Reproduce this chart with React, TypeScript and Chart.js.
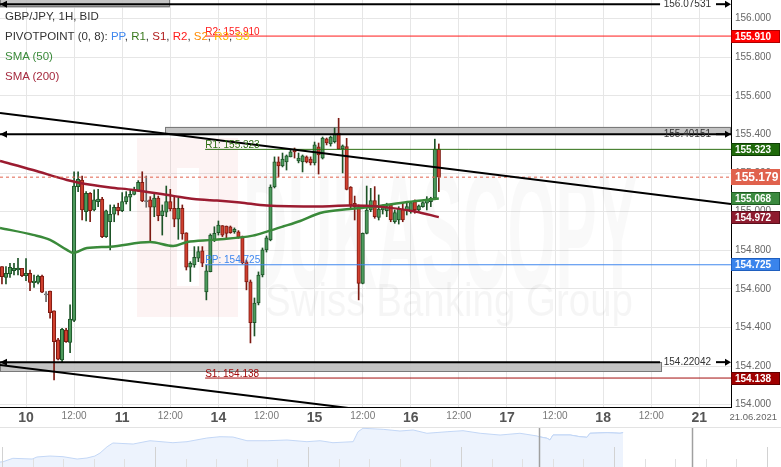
import React, { useEffect, useRef } from 'react';
import { Chart, registerables } from 'chart.js';

Chart.register(...registerables);

const FONT = '"Liberation Sans", Arial, Helvetica, sans-serif';

// ---------------- data ----------------
// x unit: trading hours counted from 10.06.2021 00:00 (weekend removed)
const FIRST_HOUR = -6;

const opens = [
  154.715, 154.660, 154.677, 154.695, 154.698, 154.707, 154.668, 154.681, 154.632, 154.634,
  154.667, 154.569, 154.589, 154.486, 154.336, 154.232, 154.387, 154.322, 154.436, 155.130,
  155.164, 155.000, 155.095, 155.009, 155.052, 155.065, 154.871, 154.948, 154.987, 155.023,
  155.005, 155.052, 155.075, 155.090, 155.109, 155.152, 155.052, 155.061, 155.023, 155.070,
  154.979, 154.997, 155.052, 155.018, 154.961, 155.018, 154.891, 154.712, 154.724, 154.759,
  154.797, 154.584, 154.689, 154.857, 154.891, 154.928, 154.926, 154.922, 154.896, 154.896,
  154.871, 154.740, 154.636, 154.425, 154.527, 154.672, 154.802, 154.854, 155.128, 155.258,
  155.237, 155.258, 155.284, 155.325, 155.263, 155.258, 155.284, 155.273, 155.253, 155.336,
  155.278, 155.377, 155.351, 155.363, 155.407, 155.325, 155.337, 155.127, 155.044, 155.026,
  154.629, 154.888, 155.009, 155.057, 154.971, 155.009, 155.005, 155.035, 154.948, 154.957,
  155.013, 155.005, 155.000, 155.052, 155.009, 155.026, 155.044, 155.052, 155.070, 155.324,
];
const highs = [
  154.715, 154.715, 154.733, 154.733, 154.759, 154.707, 154.757, 154.698, 154.672, 154.672,
  154.672, 154.586, 154.589, 154.486, 154.344, 154.396, 154.396, 154.517, 155.207, 155.207,
  155.185, 155.104, 155.099, 155.113, 155.116, 155.075, 155.009, 155.035, 155.035, 155.044,
  155.099, 155.104, 155.116, 155.127, 155.161, 155.207, 155.185, 155.078, 155.095, 155.081,
  155.035, 155.133, 155.116, 155.078, 155.070, 155.035, 154.891, 154.741, 154.819, 154.819,
  154.819, 154.724, 154.885, 154.922, 154.952, 154.928, 154.926, 154.926, 154.916, 154.902,
  154.874, 154.750, 154.646, 154.553, 154.688, 154.812, 154.874, 155.139, 155.284, 155.284,
  155.304, 155.294, 155.320, 155.330, 155.304, 155.294, 155.289, 155.284, 155.361, 155.356,
  155.387, 155.382, 155.392, 155.434, 155.484, 155.346, 155.380, 155.130, 155.081, 155.035,
  154.890, 155.133, 155.121, 155.130, 155.087, 155.035, 155.044, 155.035, 155.009, 155.026,
  155.044, 155.044, 155.052, 155.061, 155.035, 155.052, 155.078, 155.075, 155.376, 155.351,
];
const lows = [
  154.626, 154.626, 154.660, 154.672, 154.672, 154.663, 154.643, 154.591, 154.608, 154.626,
  154.581, 154.534, 154.448, 154.128, 154.232, 154.223, 154.322, 154.270, 154.430, 155.104,
  154.957, 154.952, 154.948, 155.004, 155.026, 154.865, 154.867, 154.802, 154.948, 154.983,
  155.000, 155.040, 155.005, 155.087, 155.104, 155.052, 155.023, 154.845, 154.974, 154.953,
  154.879, 154.974, 155.004, 154.922, 154.857, 154.857, 154.698, 154.638, 154.712, 154.741,
  154.715, 154.543, 154.688, 154.845, 154.879, 154.871, 154.862, 154.888, 154.888, 154.862,
  154.729, 154.595, 154.320, 154.356, 154.517, 154.662, 154.791, 154.849, 155.123, 155.180,
  155.232, 155.216, 155.284, 155.278, 155.253, 155.206, 155.253, 155.242, 155.242, 155.195,
  155.273, 155.346, 155.340, 155.356, 155.324, 155.201, 155.113, 155.018, 154.957, 154.543,
  154.626, 154.885, 155.000, 154.966, 154.957, 154.988, 154.974, 154.948, 154.940, 154.936,
  154.948, 154.983, 154.992, 154.992, 155.000, 155.023, 155.009, 155.026, 155.065, 155.104,
];
const closes = [
  154.663, 154.681, 154.712, 154.707, 154.708, 154.668, 154.681, 154.634, 154.640, 154.667,
  154.583, 154.569, 154.477, 154.327, 154.236, 154.391, 154.327, 154.443, 155.133, 155.168,
  155.009, 155.095, 155.005, 155.061, 155.065, 154.871, 155.004, 154.987, 155.023, 155.005,
  155.052, 155.078, 155.090, 155.113, 155.152, 155.056, 155.052, 155.023, 155.070, 154.979,
  155.004, 155.052, 155.014, 154.961, 155.018, 154.885, 154.712, 154.733, 154.764, 154.793,
  154.733, 154.693, 154.879, 154.888, 154.931, 154.879, 154.888, 154.891, 154.909, 154.867,
  154.736, 154.636, 154.425, 154.527, 154.672, 154.802, 154.864, 155.128, 155.258, 155.237,
  155.273, 155.289, 155.310, 155.310, 155.278, 155.289, 155.258, 155.253, 155.346, 155.294,
  155.382, 155.356, 155.387, 155.403, 155.324, 155.341, 155.116, 155.035, 155.026, 154.629,
  154.888, 155.009, 155.057, 154.974, 155.013, 155.021, 155.026, 154.957, 154.995, 155.018,
  154.957, 155.026, 155.047, 155.009, 155.030, 155.047, 155.065, 155.070, 155.324, 155.179,
];

const sma50Hours = [-6.49, 1.75, 6.0, 10.2, 11.7, 15.2, 21, 31, 36.7, 40.2, 46.6, 56.6, 60.1, 64.1, 68.4, 73.4, 80.8, 86.6, 95.1, 103];
const sma50Values = [154.916, 154.880, 154.854, 154.802, 154.786, 154.812, 154.819, 154.843, 154.822, 154.843, 154.854, 154.876, 154.897, 154.923, 154.952, 154.993, 155.014, 155.025, 155.050, 155.068];

const sma200Hours = [-6.49, 1.75, 10.23, 13.47, 20.96, 26.7, 36.68, 43.42, 47.66, 53.4, 60.13, 73.36, 80.35, 88.83, 97.07, 103];
const sma200Values = [155.263, 155.216, 155.164, 155.149, 155.126, 155.113, 155.082, 155.063, 155.058, 155.048, 155.032, 155.027, 155.032, 155.025, 155.001, 154.972];

const pivotNames = ['R2', 'R1', 'PP', 'S1'];
const pivotValues = [155.910, 155.323, 154.725, 154.138];
const pivotFromHour = 44.7;

const rayValues = [156.07531, 155.40151, 154.22042];
const rayEndHours = [158.2, 175.9, 158.2];

const zoneFromHours = [-6.49, 34.7, -6.49];
const zoneToHours = [35.9, 175.9, 158.7];
const zoneLows = [156.056, 155.400, 154.170];
const zoneHighs = [156.110, 155.440, 154.221];

const trendUpperHours = [-6.49, 175.9];
const trendUpperValues = [155.512, 155.040];
const trendLowerHours = [-6.49, 103];
const trendLowerValues = [154.206, 153.925];

const currentPrice = 155.179;

const dayTickHours = [0, 24, 48, 72, 96, 120, 144, 168];
const dayTickLabels = ['10', '11', '14', '15', '16', '17', '18', '21'];
const halfDayTickHours = [12, 36, 60, 84, 108, 132, 156];
const halfDayLabel = '12:00';
const lastDateLabel = '21.06.2021';
const priceTicks = [154.0, 154.2, 154.4, 154.6, 154.8, 155.0, 155.2, 155.4, 155.6, 155.8, 156.0];

// navigator (overview) series, x in trading days
const navDays = [
  0, 0.10, 0.42, 1.05, 1.21, 1.63, 2.06, 2.52, 2.84, 3.10,
  3.27, 3.50, 3.69, 4.35, 4.90, 5.65, 6.11, 6.76, 7.19, 7.61,
  8.07, 8.73, 9.38, 10.03, 10.46, 10.88, 11.54, 11.70, 11.86, 12.52,
  13.07, 13.50, 13.95, 14.61, 15.13, 15.69, 16.34, 16.99, 17.55, 17.61,
  17.88, 17.97, 18.07, 18.63, 18.95, 19.18, 19.28, 19.84, 20.26, 20.36,
];
const navValues = [
  150.83, 150.88, 151.45, 151.33, 151.67, 151.83, 151.72, 151.33, 151.50, 151.83,
  152.33, 153.38, 154.00, 153.83, 154.38, 154.05, 154.22, 154.83, 155.05, 155.00,
  154.38, 154.38, 154.50, 154.22, 154.38, 154.05, 154.22, 155.88, 156.45, 156.28,
  156.00, 156.17, 155.62, 155.88, 156.05, 155.62, 155.33, 155.62, 155.17, 155.05,
  154.78, 154.50, 155.33, 155.33, 155.05, 154.95, 155.62, 155.72, 155.62, 155.72,
];
const navSelStart = 17.61;
const navSelEnd = 22.61;

// ---------------- ranges & styles ----------------
const X_MIN = -6.49;
const X_MAX = 175.9;
const Y_MIN = 153.988;
const Y_MAX = 156.097;
const NAV_X_MAX = 25.52;
const NAV_Y_MIN = 150;
const NAV_Y_MAX = 157;
const NAV_TICK_SHIFT = 0.065;

const pivotLineColors = ['#ff1a1a', '#2d6e12', '#3f87ee', '#a30d0d'];
const pivotTagColors = ['#ff0000', '#1f6a0b', '#3a84ec', '#a00000'];
const pivotTagBorders = ['#b00000', '#0f3d05', '#1f5fbf', '#600000'];

const GREEN_BODY = '#4c9a5c';
const GREEN_EDGE = '#1d5327';
const RED_BODY = '#cf3f2e';
const RED_EDGE = '#7d1a12';
const FLAT_BODY = '#8c8c8c';
const FLAT_EDGE = '#666666';

const hours = opens.map((_, i) => FIRST_HOUR + i);
const dirOf = (i: number) => (closes[i] > opens[i] ? 1 : closes[i] < opens[i] ? -1 : 0);

const mainPlugin = {
  id: 'gbpjpyOverlay',
  beforeDatasetsDraw(chart: any) {
    const { ctx, chartArea: a, scales } = chart;
    const xs = scales.x;
    const ys = scales.y;
    ctx.save();
    ctx.beginPath();
    ctx.rect(a.left, a.top, a.right - a.left, a.bottom - a.top);
    ctx.clip();
    // watermark
    ctx.fillStyle = 'rgba(225, 90, 90, 0.07)';
    ctx.beginPath();
    ctx.rect(137, 138, 101, 179);
    ctx.rect(177, 168, 22, 118);
    ctx.fill('evenodd');
    ctx.textAlign = 'left';
    ctx.textBaseline = 'alphabetic';
    ctx.fillStyle = 'rgba(0,0,0,0.022)';
    ctx.font = `bold 165px ${FONT}`;
    ctx.fillText('DUKASCOPY', 243, 288, 395);
    ctx.fillStyle = 'rgba(0,0,0,0.038)';
    ctx.font = `46px ${FONT}`;
    ctx.fillText('Swiss Banking Group', 265, 316, 368);
    // grey zones
    for (let i = 0; i < zoneLows.length; i++) {
      const x0 = xs.getPixelForValue(zoneFromHours[i]);
      const x1 = xs.getPixelForValue(zoneToHours[i]);
      const y0 = ys.getPixelForValue(zoneHighs[i]);
      const y1 = ys.getPixelForValue(zoneLows[i]);
      ctx.fillStyle = 'rgba(190,190,190,0.9)';
      ctx.fillRect(x0, y0, x1 - x0, y1 - y0);
      ctx.strokeStyle = '#7a7a7a';
      ctx.lineWidth = 1;
      ctx.strokeRect(Math.round(x0) + 0.5, Math.round(y0) + 0.5, Math.round(x1 - x0) - 1, Math.round(y1 - y0) - 1);
    }
    ctx.restore();
  },
  afterDatasetsDraw(chart: any) {
    const { ctx, chartArea: a, scales } = chart;
    const xs = scales.x;
    const ys = scales.y;
    ctx.save();
    // pivot labels
    ctx.font = `10px ${FONT}`;
    ctx.textAlign = 'left';
    ctx.textBaseline = 'alphabetic';
    pivotValues.forEach((v, i) => {
      const py = ys.getPixelForValue(v);
      ctx.fillStyle = pivotLineColors[i];
      ctx.fillText(`${pivotNames[i]}: ${v.toFixed(3)}`, xs.getPixelForValue(pivotFromHour), py - 1.5);
    });
    // ray labels and arrows
    rayValues.forEach((v) => {
      const py = ys.getPixelForValue(v);
      ctx.fillStyle = '#333';
      ctx.textAlign = 'right';
      ctx.textBaseline = 'middle';
      ctx.fillText(v.toFixed(5), a.right - 20, py);
      ctx.strokeStyle = '#000';
      ctx.lineWidth = 2;
      ctx.beginPath();
      ctx.moveTo(a.right - 15, py);
      ctx.lineTo(a.right - 4, py);
      ctx.stroke();
      ctx.fillStyle = '#000';
      ctx.beginPath();
      ctx.moveTo(a.right, py);
      ctx.lineTo(a.right - 6, py - 3.5);
      ctx.lineTo(a.right - 6, py + 3.5);
      ctx.closePath();
      ctx.fill();
      ctx.beginPath();
      ctx.moveTo(a.left, py);
      ctx.lineTo(a.left + 7, py - 3.5);
      ctx.lineTo(a.left + 7, py + 3.5);
      ctx.closePath();
      ctx.fill();
    });
    ctx.restore();
  },
  afterDraw(chart: any) {
    const { ctx, chartArea: a, scales } = chart;
    const ys = scales.y;
    ctx.save();
    // cover the overflow of the lowest price label
    ctx.fillStyle = '#fff';
    ctx.fillRect(a.right + 1, a.bottom + 1, chart.width - a.right, chart.height - a.bottom);
    const tags = [
      { v: pivotValues[0], bg: pivotTagColors[0], bd: pivotTagBorders[0], big: false },
      { v: pivotValues[1], bg: pivotTagColors[1], bd: pivotTagBorders[1], big: false },
      { v: currentPrice, bg: '#e0624d', bd: '#e0624d', big: true },
      { v: sma50Values[sma50Values.length - 1], bg: '#3b8a3f', bd: '#1f5a22', big: false },
      { v: sma200Values[sma200Values.length - 1], bg: '#8e1b2e', bd: '#5a0f1c', big: false },
      { v: pivotValues[2], bg: pivotTagColors[2], bd: pivotTagBorders[2], big: false },
      { v: pivotValues[3], bg: pivotTagColors[3], bd: pivotTagBorders[3], big: false },
    ];
    tags.forEach((t) => {
      const py = ys.getPixelForValue(t.v);
      const h = t.big ? 16 : 13;
      const top = Math.round(py - h / 2);
      ctx.fillStyle = t.bg;
      ctx.fillRect(a.right, top, 49, h);
      ctx.strokeStyle = t.bd;
      ctx.lineWidth = 1;
      ctx.strokeRect(a.right + 0.5, top + 0.5, 48, h - 1);
      ctx.fillStyle = '#fff';
      ctx.font = `bold ${t.big ? 12 : 10}px ${FONT}`;
      ctx.textAlign = 'left';
      ctx.textBaseline = 'middle';
      ctx.fillText(t.v.toFixed(3), a.right + 4, top + h / 2 + 0.5);
    });
    ctx.fillStyle = '#666';
    ctx.font = `9.5px ${FONT}`;
    ctx.textAlign = 'right';
    ctx.textBaseline = 'middle';
    ctx.fillText(lastDateLabel, chart.width - 4, a.bottom + 10);
    ctx.restore();
  },
};

const navPlugin = {
  id: 'navDecor',
  beforeDatasetsDraw(chart: any) {
    const { ctx, chartArea: a } = chart;
    ctx.save();
    ctx.strokeStyle = '#e3e3e3';
    ctx.lineWidth = 1;
    ctx.beginPath();
    ctx.moveTo(a.left, 2.5);
    ctx.lineTo(a.right, 2.5);
    ctx.stroke();
    ctx.restore();
  },
  afterDatasetsDraw(chart: any) {
    const { ctx, chartArea: a, scales } = chart;
    const xs = scales.x;
    ctx.save();
    ctx.lineWidth = 1;
    for (let k = 0; k <= 25; k++) {
      const px = Math.round(xs.getPixelForValue(k + NAV_TICK_SHIFT)) + 0.5;
      const tall = k % 5 === 0;
      ctx.strokeStyle = tall ? '#d2d2d2' : '#e0e0e0';
      ctx.beginPath();
      ctx.moveTo(px, a.bottom);
      ctx.lineTo(px, a.bottom - (tall ? 20 : 8));
      ctx.stroke();
    }
    [navSelStart, navSelEnd].forEach((d) => {
      const px = Math.round(xs.getPixelForValue(d)) + 0.5;
      ctx.strokeStyle = '#a0a0a0';
      ctx.lineWidth = 1.5;
      ctx.beginPath();
      ctx.moveTo(px, 3);
      ctx.lineTo(px, a.bottom);
      ctx.stroke();
    });
    ctx.restore();
  },
};

export default function App() {
  const mainRef = useRef<HTMLCanvasElement>(null);
  const navRef = useRef<HTMLCanvasElement>(null);

  useEffect(() => {
    document.body.style.margin = '0';
    const candleBodies = hours.map((h, i) => ({ x: h, y: [opens[i], closes[i]] }));
    const candleWicks = hours.map((h, i) => ({ x: h, y: [lows[i], highs[i]] }));
    const bodyFill = hours.map((_, i) => (dirOf(i) > 0 ? GREEN_BODY : dirOf(i) < 0 ? RED_BODY : FLAT_BODY));
    const bodyEdge = hours.map((_, i) => (dirOf(i) > 0 ? GREEN_EDGE : dirOf(i) < 0 ? RED_EDGE : FLAT_EDGE));

    const lineDs = (xsArr: number[], ysArr: number[], color: string, width: number, order: number, extra: any = {}) => ({
      type: 'line',
      data: xsArr.map((x, i) => ({ x, y: ysArr[i] })),
      borderColor: color,
      borderWidth: width,
      pointRadius: 0,
      fill: false,
      tension: 0,
      order,
      ...extra,
    });

    const datasets: any[] = [
      {
        type: 'bar',
        data: candleWicks,
        backgroundColor: bodyEdge,
        borderWidth: 0,
        barThickness: 1,
        grouped: false,
        order: 6,
      },
      {
        type: 'bar',
        data: candleBodies,
        backgroundColor: bodyFill,
        borderColor: bodyEdge,
        borderWidth: 1,
        borderSkipped: false,
        barThickness: 3.5,
        minBarLength: 1,
        grouped: false,
        order: 5,
      },
      lineDs(sma200Hours, sma200Values, '#9b1b30', 2.5, 3, { cubicInterpolationMode: 'monotone' }),
      lineDs(sma50Hours, sma50Values, '#3a8a3a', 2.5, 3, { cubicInterpolationMode: 'monotone' }),
      ...pivotValues.map((v, i) => lineDs([pivotFromHour, X_MAX], [v, v], pivotLineColors[i], 1, 2)),
      lineDs([X_MIN, X_MAX], [currentPrice, currentPrice], '#e0624d', 1, 2, { borderDash: [3, 3] }),
      lineDs(trendUpperHours, trendUpperValues, '#000', 2, 1),
      lineDs(trendLowerHours, trendLowerValues, '#000', 2, 1),
      ...rayValues.map((v, i) => lineDs([X_MIN, rayEndHours[i]], [v, v], '#000', 2, 1)),
    ];

    const allXTicks = [...dayTickHours, ...halfDayTickHours].sort((p, q) => p - q);
    const isDay = (v: number) => dayTickHours.indexOf(v) >= 0;

    const main = new Chart(mainRef.current as HTMLCanvasElement, {
      type: 'bar',
      data: { datasets },
      options: {
        responsive: false,
        animation: false,
        devicePixelRatio: 1,
        events: [],
        layout: { padding: 0, autoPadding: false },
        plugins: { legend: { display: false }, tooltip: { enabled: false } },
        scales: {
          x: {
            type: 'linear',
            min: X_MIN,
            max: X_MAX,
            offset: false,
            grid: { color: '#e6e6e6', drawTicks: false, offset: false },
            border: { display: true, color: '#000', width: 1 },
            afterBuildTicks: (s: any) => {
              s.ticks = allXTicks.map((v) => ({ value: v }));
            },
            afterFit: (s: any) => {
              s.height = 18;
              s.paddingLeft = 0;
              s.paddingRight = 0;
            },
            ticks: {
              autoSkip: false,
              maxRotation: 0,
              padding: 3,
              callback: (v: any) => (isDay(v) ? dayTickLabels[dayTickHours.indexOf(v)] : halfDayLabel),
              font: (c: any) =>
                c.tick && isDay(c.tick.value)
                  ? { size: 14, weight: 'bold', family: FONT }
                  : { size: 10, family: FONT },
              color: (c: any) => (c.tick && isDay(c.tick.value) ? '#555' : '#777'),
            },
          },
          y: {
            type: 'linear',
            position: 'right',
            min: Y_MIN,
            max: Y_MAX,
            grid: { color: '#e6e6e6', drawTicks: false },
            border: { display: true, color: '#000', width: 1 },
            afterBuildTicks: (s: any) => {
              s.ticks = priceTicks.map((v) => ({ value: v }));
            },
            afterFit: (s: any) => {
              s.width = 50;
              s.paddingTop = 0;
              s.paddingBottom = 0;
            },
            ticks: {
              padding: 4,
              font: { size: 10, family: FONT },
              color: '#666',
              callback: (v: any) => Number(v).toFixed(3),
            },
          },
        },
      } as any,
      plugins: [mainPlugin],
    } as any);

    const navAll = navDays.map((d, i) => ({ x: d, y: navValues[i] }));
    const navSel = navAll.filter((p) => p.x >= navSelStart);
    const nav = new Chart(navRef.current as HTMLCanvasElement, {
      type: 'line',
      data: {
        datasets: [
          {
            data: navAll,
            borderColor: '#c3d7f6',
            backgroundColor: '#edf3fd',
            borderWidth: 1,
            pointRadius: 0,
            fill: 'start',
            tension: 0,
          },
          {
            data: navSel,
            borderColor: '#a9c5f0',
            backgroundColor: '#dbe7fb',
            borderWidth: 1,
            pointRadius: 0,
            fill: 'start',
            tension: 0,
          },
        ],
      },
      options: {
        responsive: false,
        animation: false,
        devicePixelRatio: 1,
        events: [],
        layout: { padding: 0, autoPadding: false },
        plugins: { legend: { display: false }, tooltip: { enabled: false } },
        scales: {
          x: { type: 'linear', display: false, min: 0, max: NAV_X_MAX },
          y: { type: 'linear', display: false, min: NAV_Y_MIN, max: NAV_Y_MAX },
        },
      } as any,
      plugins: [navPlugin],
    } as any);

    return () => {
      main.destroy();
      nav.destroy();
    };
  }, []);

  const sep = <span style={{ color: '#333' }}>, </span>;
  return (
    <div style={{ position: 'relative', width: 781, height: 467, overflow: 'hidden', background: '#fff' }}>
      <canvas ref={mainRef} width={781} height={425} style={{ position: 'absolute', left: 0, top: 0, width: 781, height: 425 }} />
      <canvas ref={navRef} width={781} height={42} style={{ position: 'absolute', left: 0, top: 425, width: 781, height: 42 }} />
      <div
        style={{
          position: 'absolute',
          left: 5,
          top: 6,
          font: `11.5px ${FONT}`,
          lineHeight: '20px',
          color: '#333',
          whiteSpace: 'nowrap',
          pointerEvents: 'none',
        }}
      >
        <div>GBP/JPY, 1H, BID</div>
        <div>
          PIVOTPOINT (0, 8): <span style={{ color: '#3f87ee' }}>PP</span>
          {sep}
          <span style={{ color: '#3a7a1e' }}>R1</span>
          {sep}
          <span style={{ color: '#b01c1c' }}>S1</span>
          {sep}
          <span style={{ color: '#ff1a1a' }}>R2</span>
          {sep}
          <span style={{ color: '#ff8a00' }}>S2</span>
          {sep}
          <span style={{ color: '#ffb400' }}>R3</span>
          {sep}
          <span style={{ color: '#f2d200' }}>S3</span>
        </div>
        <div style={{ color: '#3a8a3a' }}>SMA (50)</div>
        <div style={{ color: '#a52a3f' }}>SMA (200)</div>
      </div>
    </div>
  );
}
